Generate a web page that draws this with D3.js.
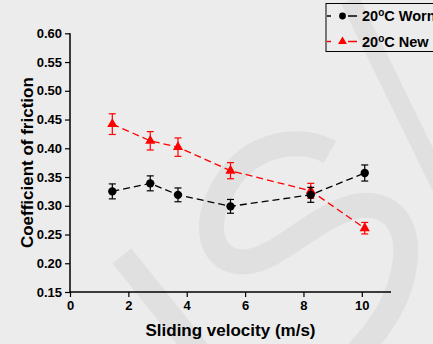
<!DOCTYPE html>
<html>
<head>
<meta charset="utf-8">
<script src="https://cdn.jsdelivr.net/npm/d3@7"></script>
<style>
  html, body { margin: 0; padding: 0; background: #ececec; }
  svg { display: block; font-family: "Liberation Sans", Arial, sans-serif; }
</style>
</head>
<body>
<svg id="chart" width="433" height="344"></svg>
<script>
// data
const velocity = [1.45, 2.75, 3.7, 5.5, 8.25, 10.1];
const wornMu = [0.325, 0.339, 0.319, 0.299, 0.319, 0.357];
const wornErr = [0.013, 0.013, 0.012, 0.012, 0.013, 0.014];
const newMu = [0.442, 0.413, 0.402, 0.361, 0.326, 0.261];
const newErr = [0.018, 0.016, 0.016, 0.014, 0.013, 0.010];
const xTicks = [0, 2, 4, 6, 8, 10];
const yTicks = [0.15, 0.2, 0.25, 0.3, 0.35, 0.4, 0.45, 0.5, 0.55, 0.6];
const seriesNames = ["Worn", "New"];

const svg = d3.select("#chart");
const width = 433, height = 344;

svg.append("rect").attr("width", width).attr("height", height).attr("fill", "#ececec");

// watermark in the background (the grey "S" logo)
const wm = svg.append("g").attr("fill", "none").attr("stroke", "#e0e0e0");
wm.append("path").attr("d", "M122,256 L205,360").attr("stroke-width", 24);
wm.append("path").attr("d", "M350,0 L455,215").attr("stroke-width", 19);
wm.append("path")
  .attr("stroke-width", 25)
  .attr("d", "M330,152 C300,135 250,143 225,185 C200,228 212,262 243,262 " +
    "C275,262 310,220 350,208 C390,196 410,225 405,262 C401,298 382,326 358,352");

const x = d3.scaleLinear().domain([0, 11]).range([70, 391]);
const y = d3.scaleLinear().domain([0.15, 0.6]).range([292, 33.3]);

// axes
const xAxis = svg.append("g").attr("transform", `translate(0,${y(0.15)})`);
xAxis.call(d3.axisBottom(x).tickValues(d3.range(0, 12, 1)).tickSize(3).tickFormat(""));
xAxis.call(d3.axisBottom(x).tickValues(xTicks).tickSize(5).tickFormat(d3.format("d")));
xAxis.selectAll(".domain").attr("stroke-width", 1.5).attr("d", `M${x(0)},0H${x(11)}`);
xAxis.selectAll(".tick line").attr("stroke-width", 1.2);
xAxis.selectAll(".tick text")
  .attr("font-size", 13).attr("font-weight", "bold").attr("fill", "#000")
  .attr("y", 9).attr("font-family", "Liberation Sans, Arial, sans-serif");

const yAxis = svg.append("g").attr("transform", `translate(${x(0)},0)`);
yAxis.call(d3.axisLeft(y).tickValues(d3.range(0.15, 0.6001, 0.025)).tickSize(3).tickFormat(""));
yAxis.call(d3.axisLeft(y).tickValues(yTicks).tickSize(5).tickFormat(d3.format(".2f")));
yAxis.selectAll(".domain").attr("stroke-width", 1.5).attr("d", `M0,${y(0.15)}V${y(0.6)}`);
yAxis.selectAll(".tick line").attr("stroke-width", 1.2);
yAxis.selectAll(".tick text")
  .attr("font-size", 13).attr("font-weight", "bold").attr("fill", "#000")
  .attr("x", -8).attr("font-family", "Liberation Sans, Arial, sans-serif");

// axis titles
svg.append("text")
  .attr("x", (x(0) + x(11)) / 2).attr("y", 336)
  .attr("text-anchor", "middle").attr("font-size", 17).attr("font-weight", "bold")
  .text("Sliding velocity (m/s)");
svg.append("text")
  .attr("transform", `translate(33,${(y(0.15) + y(0.6)) / 2}) rotate(-90)`)
  .attr("text-anchor", "middle").attr("font-size", 17).attr("font-weight", "bold")
  .text("Coefficient of friction");

const series = [
  { name: "New", mu: newMu, err: newErr, color: "#ff0000", shape: d3.symbolTriangle, size: 45 },
  { name: "Worn", mu: wornMu, err: wornErr, color: "#000000", shape: d3.symbolCircle, size: 55 },
];

const line = d3.line().x((d) => x(d[0])).y((d) => y(d[1]));

series.forEach((s) => {
  const pts = velocity.map((v, i) => [v, s.mu[i], s.err[i]]);
  const g = svg.append("g").attr("class", "series-" + s.name);
  g.append("path")
    .attr("d", line(pts))
    .attr("fill", "none").attr("stroke", s.color)
    .attr("stroke-width", 1.3).attr("stroke-dasharray", "7,4");
  // error bars
  const eb = g.selectAll(".eb").data(pts).join("g").attr("class", "eb")
    .attr("stroke", s.color).attr("stroke-width", 1.2);
  eb.append("line")
    .attr("x1", (d) => x(d[0])).attr("x2", (d) => x(d[0]))
    .attr("y1", (d) => y(d[1] - d[2])).attr("y2", (d) => y(d[1] + d[2]));
  eb.append("line")
    .attr("x1", (d) => x(d[0]) - 3.5).attr("x2", (d) => x(d[0]) + 3.5)
    .attr("y1", (d) => y(d[1] + d[2])).attr("y2", (d) => y(d[1] + d[2]));
  eb.append("line")
    .attr("x1", (d) => x(d[0]) - 3.5).attr("x2", (d) => x(d[0]) + 3.5)
    .attr("y1", (d) => y(d[1] - d[2])).attr("y2", (d) => y(d[1] - d[2]));
  // markers
  g.selectAll(".mk").data(pts).join("path").attr("class", "mk")
    .attr("transform", (d) => `translate(${x(d[0])},${y(d[1])})`)
    .attr("d", d3.symbol().type(s.shape).size(s.size))
    .attr("fill", s.color);
});

// legend (runs off the right edge like the original)
const legend = svg.append("g").attr("transform", "translate(326,3.5)");
legend.append("rect")
  .attr("width", 130).attr("height", 48)
  .attr("fill", "none").attr("stroke", "#000").attr("stroke-width", 1);
const legendItems = [
  { label: seriesNames[0], color: "#000", shape: d3.symbolCircle, size: 36 },
  { label: seriesNames[1], color: "#ff0000", shape: d3.symbolTriangle, size: 34 },
];
legend.selectAll(".item").data(legendItems).join("g").attr("class", "item")
  .attr("transform", (d, i) => `translate(0,${12.5 + i * 25.5})`)
  .call((g) => {
    g.append("line").attr("x1", 1).attr("x2", 31).attr("y1", 0).attr("y2", 0)
      .attr("stroke", (d) => d.color).attr("stroke-width", 1.3)
      .attr("stroke-dasharray", "4,17,9");
    g.append("path")
      .attr("transform", "translate(16.5,0)")
      .attr("d", (d) => d3.symbol().type(d.shape).size(d.size)())
      .attr("fill", (d) => d.color);
    const t = g.append("text").attr("x", 36).attr("y", 5)
      .attr("font-size", 14.5).attr("font-weight", "bold").attr("fill", "#000");
    t.append("tspan").text("20");
    t.append("tspan").text("o").attr("font-size", 10).attr("dy", -5);
    t.append("tspan").text("C ").attr("dy", 5);
    t.append("tspan").text((d) => d.label);
  });
</script>
</body>
</html>
